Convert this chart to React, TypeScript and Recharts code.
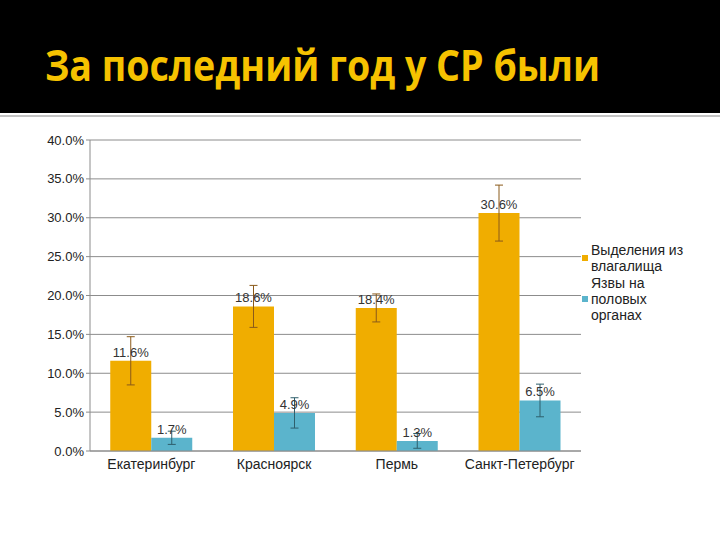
import React from 'react';
import { BarChart, Bar, XAxis, YAxis, CartesianGrid, Legend, ErrorBar, LabelList } from 'recharts';

const categories = ['Екатеринбург', 'Красноярск', 'Пермь', 'Санкт-Петербург'];
const discharge = [11.6, 18.6, 18.4, 30.6];
const ulcers = [1.7, 4.9, 1.3, 6.5];
const dischargeErr = [3.1, 2.7, 1.8, 3.6];
const ulcersErr = [0.85, 1.95, 0.95, 2.1];
const yTicks = [0, 5, 10, 15, 20, 25, 30, 35, 40];
const seriesNames = ['Выделения из влагалища', 'Язвы на половых органах'];

const data = categories.map((c, i) => ({
  name: c,
  discharge: discharge[i],
  ulcers: ulcers[i],
  dErr: dischargeErr[i],
  uErr: ulcersErr[i],
}));

const ORANGE = '#F0AD00';
const BLUE = '#5BB4CC';
const FONT = '"Liberation Sans", Arial, sans-serif';

const fmt = (v: number) => `${Number(v).toFixed(1)}%`;

const LegendContent = () => {
  const items = [
    { label: seriesNames[0], color: ORANGE },
    { label: seriesNames[1], color: BLUE },
  ];
  return (
    <div style={{ fontFamily: FONT, fontSize: 14, color: '#222', lineHeight: '16.3px' }}>
      {items.map((it) => (
        <div key={it.label} style={{ display: 'flex', alignItems: 'center' }}>
          <div style={{ width: 6, height: 6, background: it.color, marginRight: 3, flexShrink: 0 }} />
          <div style={{ width: 100 }}>{it.label}</div>
        </div>
      ))}
    </div>
  );
};

export default function App() {
  return (
    <div style={{ position: 'absolute', left: 0, top: 0, width: 720, height: 540, background: '#fff', overflow: 'hidden' }}>
      <div style={{ position: 'absolute', left: 0, top: 0, width: 720, height: 113, background: '#000' }} />
      <div style={{ position: 'absolute', left: 0, top: 115, width: 720, height: 2, background: '#c4c4c4' }} />
      <svg style={{ position: 'absolute', left: 0, top: 0 }} width={720} height={113}>
        <text
          x={45}
          y={81}
          fill="#F6C200"
          fontFamily='"Open Sans", "Noto Sans", sans-serif'
          fontWeight={700}
          fontSize={43}
          textLength={555}
          lengthAdjust="spacingAndGlyphs"
        >
          За последний год у СР были
        </text>
      </svg>
      <div style={{ position: 'absolute', left: 0, top: 0 }}>
        <BarChart
          width={720}
          height={540}
          data={data}
          margin={{ top: 140, right: 9, bottom: 59, left: 30 }}
          barCategoryGap="16.5%"
          barGap={0}
        >
          <CartesianGrid vertical={false} stroke="#8c8c8c" strokeWidth={1} />
          <XAxis
            dataKey="name"
            tickLine={false}
            axisLine={{ stroke: '#8c8c8c' }}
            tick={{ fontFamily: FONT, fontSize: 14, fill: '#222' }}
            height={30}
            interval={0}
          />
          <YAxis
            domain={[0, 40]}
            ticks={yTicks}
            tickFormatter={fmt}
            width={60}
            tickSize={4}
            tickLine={{ stroke: '#8c8c8c' }}
            axisLine={{ stroke: '#8c8c8c' }}
            tick={{ fontFamily: FONT, fontSize: 13, fill: '#222' }}
            interval={0}
          />
          <Legend
            layout="vertical"
            align="right"
            verticalAlign="top"
            content={<LegendContent />}
            wrapperStyle={{ left: 582, top: 242, width: 130 }}
          />
          <Bar dataKey="discharge" name={seriesNames[0]} fill={ORANGE} isAnimationActive={false}>
            <ErrorBar dataKey="dErr" width={4} stroke="#8a5a1a" strokeWidth={1} direction="y" />
            <LabelList dataKey="discharge" position="top" offset={4} formatter={fmt} style={{ fontFamily: FONT, fontSize: 13, fill: '#333' }} />
          </Bar>
          <Bar dataKey="ulcers" name={seriesNames[1]} fill={BLUE} isAnimationActive={false}>
            <ErrorBar dataKey="uErr" width={4} stroke="#2e5f6c" strokeWidth={1} direction="y" />
            <LabelList dataKey="ulcers" position="top" offset={4} formatter={fmt} style={{ fontFamily: FONT, fontSize: 13, fill: '#333' }} />
          </Bar>
        </BarChart>
      </div>
    </div>
  );
}
